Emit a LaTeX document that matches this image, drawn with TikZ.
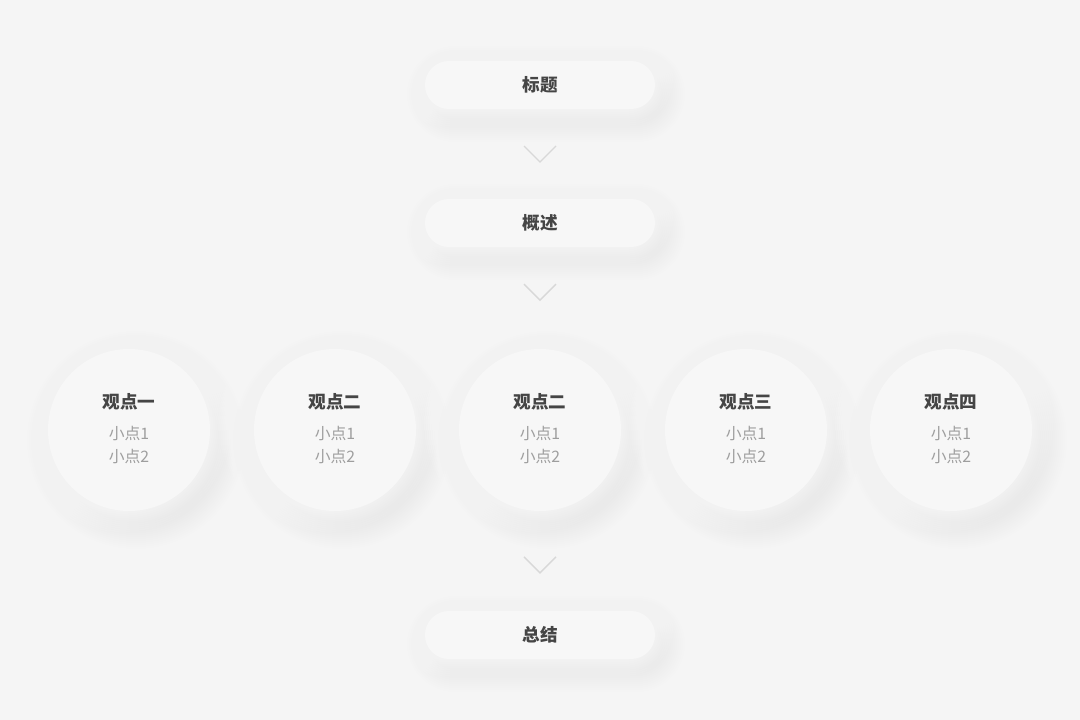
\documentclass[tikz,border=0pt]{standalone}
\usepackage{fontspec}
\setmainfont{Noto Sans CJK SC}
\usetikzlibrary{positioning,calc}
\definecolor{bgcol}{HTML}{F5F5F5}
\definecolor{cardcol}{HTML}{F7F7F7}
\definecolor{headcol}{HTML}{454545}
\definecolor{subcol}{HTML}{9E9E9E}
\definecolor{chevcol}{HTML}{D8D8D8}

\begin{document}
\begin{tikzpicture}[x=1pt, y=-1pt,
  pill/.style={fill=cardcol, rounded corners=24pt, minimum width=230pt, minimum height=48pt, inner sep=0pt, text=headcol, font=\bfseries\fontsize{17.6}{20}\selectfont},
  bubble/.style={circle, fill=cardcol, minimum size=162pt, inner sep=0pt},
  headtext/.style={text=headcol, inner sep=0pt, font=\bfseries\fontsize{17.6}{20}\selectfont},
  subtext/.style={text=subcol, inner sep=0pt, font=\fontsize{15.8}{18}\selectfont},
  chev/.style={chevcol, line width=1.4pt}]
\useasboundingbox (0,0) rectangle (1080,720);
\fill[bgcol] (0,0) rectangle (1080,720);

% soft light and shadow behind the pills
\foreach \py in {85,223,635}{
	\foreach \k in {2,4,...,24}{
		\fill[white, opacity=0.08, rounded corners={(24+\k)*1pt}] (425-\k-6,\py-24-\k-7) rectangle (655+\k-6,\py+24+\k-7);
		\fill[black, opacity=0.0045, rounded corners={(24+\k)*1pt}] (425-\k+6,\py-24-\k+9) rectangle (655+\k+6,\py+24+\k+9);
	}
}
% same for the circles
\foreach \cx in {129,335,540,746,951}{
	\foreach \k in {2,4,...,28}{
		\fill[white, opacity=0.08] (\cx-7,430-7) circle ({81+\k});
		\fill[black, opacity=0.0045] (\cx+7,430+10) circle ({81+\k});
	}
}

\node[pill] (title) at (540,85) {标题};
\node[pill] (overview) at (540,223) {概述};
\node[pill] (summary) at (540,635) {总结};

\foreach \cx/\t [count=\i] in {129/观点一,335/观点二,540/观点二,746/观点三,951/观点四}{
	\node[bubble] (c\i) at (\cx,430) {};
	\node[headtext] (h\i) at ($(c\i)+(0,-28)$) {\t};
	\node[subtext] (s\i) at ($(c\i)+(0,3)$) {小点1};
	\node[subtext] (t\i) at ($(c\i)+(0,27)$) {小点2};
}

\coordinate (v1) at ($(title.south)!0.5!(overview.north)$);
\coordinate (v2) at ($(overview.south)+(0,45)$);
\coordinate (v3) at ($(summary.north)+(0,-46)$);
\foreach \v in {v1,v2,v3}{
	\draw[chev] ($(\v)+(-16,-8)$) -- ++(16,16) -- ++(16,-16);
}
\end{tikzpicture}
\end{document}
